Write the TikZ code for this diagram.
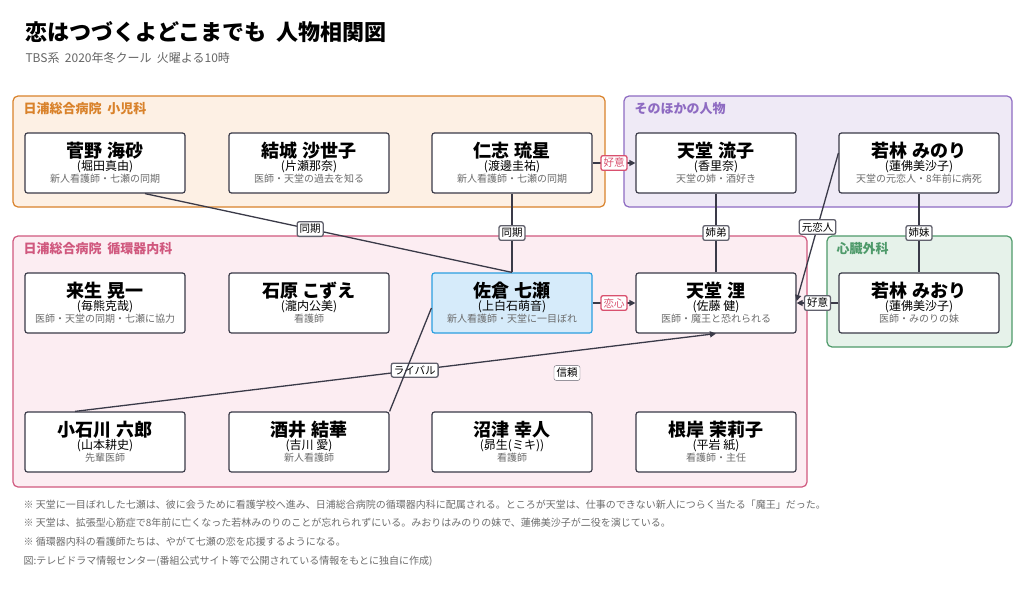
\documentclass[tikz,border=0pt]{standalone}
\usepackage{fontspec}
\setmainfont{Noto Sans CJK JP}
\usetikzlibrary{arrows.meta}
\definecolor{orbd}{HTML}{D9822B}\definecolor{orbg}{HTML}{FDF0E4}
\definecolor{pubd}{HTML}{8E6BC2}\definecolor{pubg}{HTML}{EFEAF6}
\definecolor{pkbd}{HTML}{D0587E}\definecolor{pkbg}{HTML}{FCEDF2}
\definecolor{grbd}{HTML}{4E9A6A}\definecolor{grbg}{HTML}{E6F2EA}
\definecolor{blbd}{HTML}{2A9FE0}\definecolor{blbg}{HTML}{D6EBFA}
\definecolor{ln}{HTML}{3A3A48}\definecolor{rd}{HTML}{D9506E}
\begin{document}
\begin{tikzpicture}[x=1pt,y=-1pt,
 grp/.style={draw=#1bd,fill=#1bg,rounded corners=5pt,line width=1.2pt},
 gt/.style={anchor=west,font=\fontsize{13}{13}\selectfont\bfseries},
 pbox/.style={draw=ln,fill=white,rounded corners=2.5pt,line width=1.2pt,minimum width=160pt,minimum height=60pt,inner sep=0pt,align=center},
 lab/.style={draw=ln!80,fill=white,rounded corners=2pt,font=\fontsize{10.5}{10.5}\selectfont,inner sep=2.5pt},
 rlab/.style={draw=rd,fill=white,text=rd,rounded corners=2pt,font=\fontsize{10.5}{10.5}\selectfont,inner sep=2.5pt},
 ed/.style={draw=ln,line width=1.3pt},
 ar/.style={ed,-{Triangle[length=6pt,width=6pt]}}]
\newcommand{\pp}[3]{{\fontsize{18}{19}\selectfont\bfseries #1}\\[1pt]{\fontsize{12}{14}\selectfont (#2)}\\{\fontsize{10}{12}\selectfont\color{gray!85!black}#3}}
\useasboundingbox (0,0) rectangle (1024,589);
\fill[white] (0,0) rectangle (1024,589);
\node[anchor=west,font=\fontsize{22}{22}\selectfont\bfseries] (title) at (22,32) {恋はつづくよどこまでも\ \ 人物相関図};
\node[anchor=west,font=\fontsize{12}{12}\selectfont,text=gray!80!black] (sub) at (22,58) {TBS系\ \ 2020年冬クール\ \ 火曜よる10時};
\draw[grp=or] (13,96) rectangle (605,207);
\draw[grp=pu] (624,96) rectangle (1012,207);
\draw[grp=pk] (13,236) rectangle (807,487);
\draw[grp=gr] (827,236) rectangle (1012,347);
\node[gt,text=orbd] (g1) at (20,109) {日浦総合病院\ \ 小児科};
\node[gt,text=pubd] (g2) at (631,109) {そのほかの人物};
\node[gt,text=pkbd] (g3) at (20,249) {日浦総合病院\ \ 循環器内科};
\node[gt,text=grbd] (g4) at (833,249) {心臓外科};
\node[pbox] (kanno) at (105,163) {\pp{菅野 海砂}{堀田真由}{新人看護師・七瀬の同期}};
\node[pbox] (yuki) at (309,163) {\pp{結城 沙世子}{片瀬那奈}{医師・天堂の過去を知る}};
\node[pbox] (nishi) at (512,163) {\pp{仁志 琉星}{渡邊圭祐}{新人看護師・七瀬の同期}};
\node[pbox] (ryuko) at (716,163) {\pp{天堂 流子}{香里奈}{天堂の姉・酒好き}};
\node[pbox] (minori) at (919,163) {\pp{若林 みのり}{蓮佛美沙子}{天堂の元恋人・8年前に病死}};
\node[pbox] (kisugi) at (105,303) {\pp{来生 晃一}{毎熊克哉}{医師・天堂の同期・七瀬に協力}};
\node[pbox] (ishi) at (309,303) {\pp{石原 こずえ}{瀧内公美}{看護師}};
\node[pbox,draw=blbd,fill=blbg] (sakura) at (512,303) {\pp{佐倉 七瀬}{上白石萌音}{新人看護師・天堂に一目ぼれ}};
\node[pbox] (kairi) at (716,303) {\pp{天堂 浬}{佐藤 健}{医師・魔王と恐れられる}};
\node[pbox] (miori) at (919,303) {\pp{若林 みおり}{蓮佛美沙子}{医師・みのりの妹}};
\node[pbox] (koishi) at (105,442) {\pp{小石川 六郎}{山本耕史}{先輩医師}};
\node[pbox] (sakai) at (309,442) {\pp{酒井 結華}{吉川 愛}{新人看護師}};
\node[pbox] (numa) at (512,442) {\pp{沼津 幸人}{昴生(ミキ)}{看護師}};
\node[pbox] (negi) at (716,442) {\pp{根岸 茉莉子}{平岩 紙}{看護師・主任}};
\draw[ed] (kanno.south) ++(40,0) coordinate (k1) -- (sakura.north) node[lab,pos=0.45] {同期};
\draw[ed] (nishi) -- (sakura) node[lab,midway] {同期};
\draw[ar] (nishi) -- (ryuko) node[rlab,midway] {好意};
\draw[ar] (sakura) -- (kairi) node[rlab,midway] {恋心};
\draw[ed] (ryuko) -- (kairi) node[lab,midway] {姉弟};
\draw[ed] (minori) -- (miori) node[lab,midway] {姉妹};
\draw[ar] (miori) -- (kairi) node[lab,midway] {好意};
\draw[ar] (minori.west) ++(0,-10) coordinate (m1) -- ([yshift=2pt]kairi.east) node[lab,pos=0.5] {元恋人};
\draw[ar] (koishi.north) ++(-30,0) coordinate (c1) -- (kairi.south) node[lab,pos=0.53] {ライバル};
\draw[ed] (sakai.north east) -- ([yshift=-5pt]sakura.west) coordinate (s1);
\node[lab] (shinrai) at (567,373) {信頼};
\begin{scope}[font=\fontsize{10}{10}\selectfont,text=gray!85!black]
\node[anchor=west] (n1) at (20,505) {※ 天堂に一目ぼれした七瀬は、彼に会うために看護学校へ進み、日浦総合病院の循環器内科に配属される。ところが天堂は、仕事のできない新人につらく当たる「魔王」だった。};
\node[anchor=west] (n2) at (20,523) {※ 天堂は、拡張型心筋症で8年前に亡くなった若林みのりのことが忘れられずにいる。みおりはみのりの妹で、蓮佛美沙子が二役を演じている。};
\node[anchor=west] (n3) at (20,542) {※ 循環器内科の看護師たちは、やがて七瀬の恋を応援するようになる。};
\node[anchor=west] (n4) at (20,561) {図:テレビドラマ情報センター(番組公式サイト等で公開されている情報をもとに独自に作成)};
\end{scope}
\end{tikzpicture}
\end{document}
